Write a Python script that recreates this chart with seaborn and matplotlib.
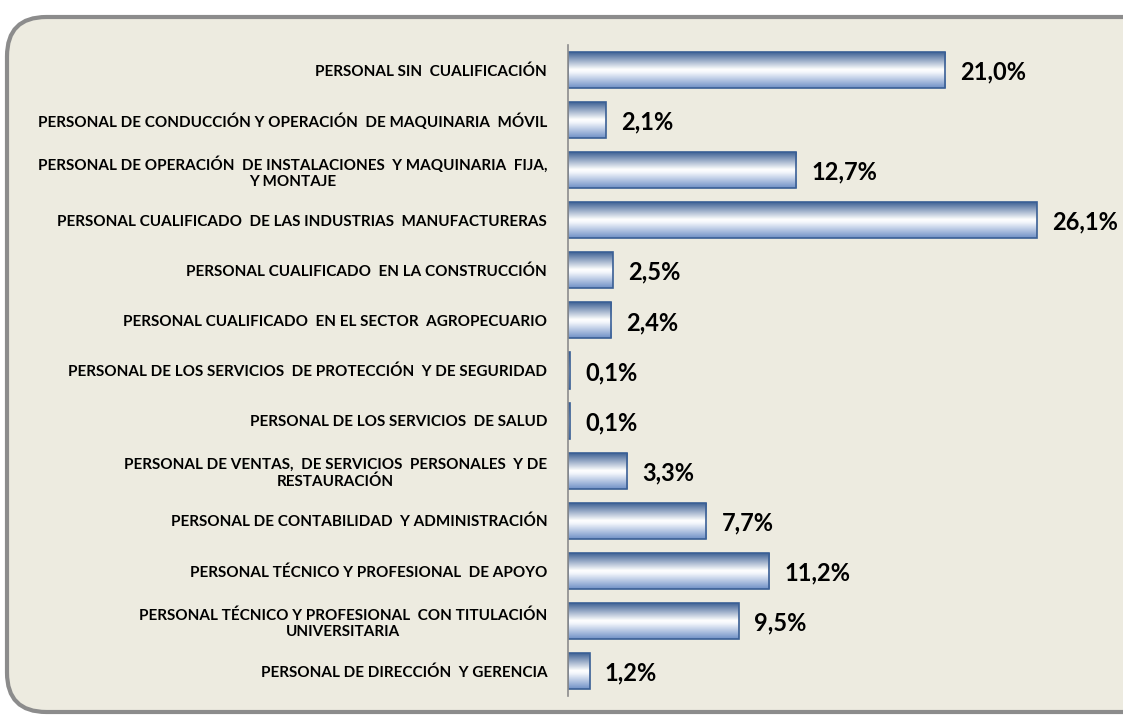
import matplotlib
matplotlib.use("Agg")
import matplotlib.pyplot as plt
import seaborn as sns
import numpy as np
import pandas as pd
from matplotlib.patches import FancyBboxPatch
from matplotlib.colors import LinearSegmentedColormap

categories = [
    "PERSONAL SIN  CUALIFICACIÓN",
    "PERSONAL DE CONDUCCIÓN Y OPERACIÓN  DE MAQUINARIA  MÓVIL",
    "PERSONAL DE OPERACIÓN  DE INSTALACIONES  Y MAQUINARIA  FIJA,\nY MONTAJE",
    "PERSONAL CUALIFICADO  DE LAS INDUSTRIAS  MANUFACTURERAS",
    "PERSONAL CUALIFICADO  EN LA CONSTRUCCIÓN",
    "PERSONAL CUALIFICADO  EN EL SECTOR  AGROPECUARIO",
    "PERSONAL DE LOS SERVICIOS  DE PROTECCIÓN  Y DE SEGURIDAD",
    "PERSONAL DE LOS SERVICIOS  DE SALUD",
    "PERSONAL DE VENTAS,  DE SERVICIOS  PERSONALES  Y DE\nRESTAURACIÓN",
    "PERSONAL DE CONTABILIDAD  Y ADMINISTRACIÓN",
    "PERSONAL TÉCNICO Y PROFESIONAL  DE APOYO",
    "PERSONAL TÉCNICO Y PROFESIONAL  CON TITULACIÓN\nUNIVERSITARIA",
    "PERSONAL DE DIRECCIÓN  Y GERENCIA",
]
values = [21.0, 2.1, 12.7, 26.1, 2.5, 2.4, 0.1, 0.1, 3.3, 7.7, 11.2, 9.5, 1.2]
value_labels = ["21,0%", "2,1%", "12,7%", "26,1%", "2,5%", "2,4%", "0,1%",
                "0,1%", "3,3%", "7,7%", "11,2%", "9,5%", "1,2%"]

df = pd.DataFrame({"grupo": categories, "pct": values})

sns.set_style("white")
plt.rcParams["font.family"] = ["Lato", "DejaVu Sans"]

bg = "#EDEBE0"
fig = plt.figure(figsize=(11.23, 7.15), dpi=100)
fig.patch.set_facecolor("white")

# rounded frame behind the chart
frame = FancyBboxPatch((7 / 1123, 3 / 715), 1200 / 1123, 695 / 715,
                       boxstyle="round,pad=0,rounding_size=0.035",
                       transform=fig.transFigure, facecolor=bg,
                       edgecolor="#8C8C8C", linewidth=3, zorder=-5,
                       mutation_aspect=1123 / 715)
fig.patches.append(frame)

ax = fig.add_axes([568 / 1123, 19 / 715, 555 / 1123, 651 / 715])
ax.set_facecolor("none")
ax.set_zorder(2)

sns.barplot(data=df, x="pct", y="grupo", ax=ax, color="#4F74AE",
            width=0.72, edgecolor="#3A5F95", linewidth=1.2, orient="h")

xlim = (0, 30.9)
ylim = ax.get_ylim()

# vertical gradient for each bar
cmap = LinearSegmentedColormap.from_list(
    "bar", [(0, "#34598F"), (0.5, "#FFFFFF"), (0.58, "#F2F5FB"), (1, "#6F90C6")])
grad = np.linspace(0, 1, 256).reshape(-1, 1)
for p in ax.patches:
    x0, y0 = p.get_x(), p.get_y()
    w, h = p.get_width(), p.get_height()
    img = ax.imshow(grad, cmap=cmap, aspect="auto",
                    extent=(x0, x0 + w, y0 + h, y0), zorder=1.5,
                    interpolation="bilinear")
    img.set_clip_path(p)
    p.set_facecolor("none")
    p.set_zorder(2)

ax.set_xlim(xlim)
ax.set_ylim(ylim)

for i, (v, lab) in enumerate(zip(values, value_labels)):
    ax.text(v + 0.85, i + 0.04, lab, va="center", ha="left",
            fontsize=17, fontweight="bold", color="black")

ax.set_xlabel("")
ax.set_ylabel("")
ax.set_xticks([])
for s in ["top", "right", "bottom"]:
    ax.spines[s].set_visible(False)
ax.spines["left"].set_color("#8C8C8C")
ax.spines["left"].set_linewidth(1.2)

# ticks sit between categories, labels centred on bars
ax.set_yticks(np.arange(len(categories)))
ax.set_yticklabels(categories, fontsize=11, fontweight="bold",
                   multialignment="center", color="black")
ax.tick_params(axis="y", which="major", length=0, pad=15, labelcolor="black")
ax.set_yticks(np.arange(-0.5, len(categories), 1), minor=True)
ax.tick_params(axis="y", which="minor", length=5, width=1.2,
               color="#8C8C8C", direction="out")

plt.savefig("out.png", dpi=100, facecolor=fig.get_facecolor())
